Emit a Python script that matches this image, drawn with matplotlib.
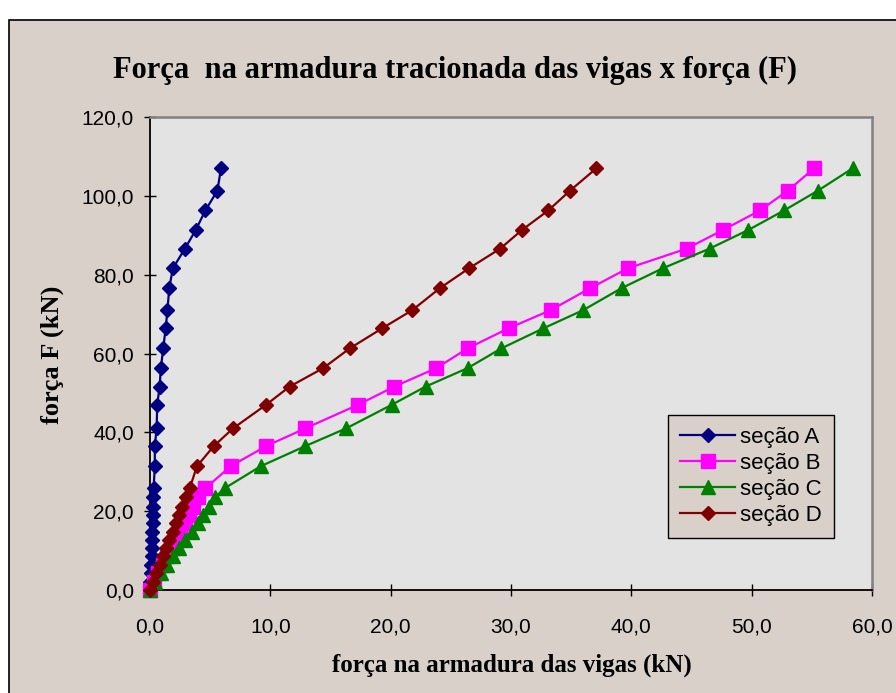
import matplotlib
matplotlib.use("Agg")
import matplotlib.pyplot as plt
import matplotlib.patches as mpatches
from matplotlib.ticker import FuncFormatter, MultipleLocator

# load levels F (kN), shared by the four sections
forca_F = [0, 2.1, 4.2, 6.3, 8.5, 10.6, 12.7, 14.8, 16.9, 19.0, 21.1, 23.5, 25.8,
           31.4, 36.5, 41.0, 47.0, 51.6, 56.3, 61.3, 66.4, 71.0, 76.6, 81.6,
           86.6, 91.3, 96.3, 101.3, 107.0]

# force in the tensioned reinforcement (kN)
secao_A = [0, 0.04, 0.07, 0.1, 0.13, 0.16, 0.18, 0.2, 0.22, 0.24, 0.26, 0.28, 0.3,
           0.4, 0.4, 0.55, 0.6, 0.8, 0.9, 1.1, 1.3, 1.45, 1.6, 1.9,
           2.9, 3.8, 4.6, 5.6, 5.9]
secao_B = [0, 0.35, 0.7, 1.05, 1.45, 1.8, 2.15, 2.5, 2.9, 3.25, 3.6, 4.0, 4.6,
           6.7, 9.65, 12.9, 17.3, 20.3, 23.8, 26.4, 29.8, 33.3, 36.6, 39.7,
           44.6, 47.6, 50.7, 53.0, 55.2]
secao_C = [0, 0.45, 0.95, 1.45, 1.95, 2.45, 2.95, 3.45, 3.95, 4.4, 4.9, 5.4, 6.2,
           9.2, 12.9, 16.3, 20.1, 22.9, 26.4, 29.2, 32.7, 36.0, 39.2, 42.6,
           46.5, 49.7, 52.7, 55.5, 58.4]
secao_D = [0, 0.25, 0.5, 0.8, 1.1, 1.35, 1.6, 1.9, 2.15, 2.45, 2.7, 3.0, 3.3,
           3.9, 5.3, 6.9, 9.65, 11.6, 14.4, 16.6, 19.3, 21.8, 24.1, 26.5,
           29.1, 30.9, 33.1, 34.9, 37.1]

legendas = ["seção A", "seção B", "seção C", "seção D"]

bg = "#D9D0C9"
fig = plt.figure(figsize=(8.96, 6.93), dpi=100, facecolor="white")
# chart area frame
fig.patches.append(mpatches.Rectangle((9 / 896, -0.01), 1.0, 1 - 20 / 693 + 0.01,
                                      transform=fig.transFigure, facecolor=bg,
                                      edgecolor="black", linewidth=1.2, zorder=-5))

ax = fig.add_axes([150 / 896, 103 / 693, 722 / 896, 473 / 693])
ax.set_zorder(2)
ax.set_facecolor("#E3E3E3")

ax.plot(secao_A, forca_F, color="#000080", marker="D", markersize=7, lw=1.6,
        label=legendas[0], clip_on=False, zorder=3)
ax.plot(secao_B, forca_F, color="#FF00FF", marker="s", markersize=10, lw=1.6,
        label=legendas[1], clip_on=False, zorder=3)
ax.plot(secao_C, forca_F, color="#008000", marker="^", markersize=10, lw=1.6,
        label=legendas[2], clip_on=False, zorder=3)
ax.plot(secao_D, forca_F, color="#800000", marker="D", markersize=7, lw=1.6,
        label=legendas[3], clip_on=False, zorder=3)

ax.set_xlim(0, 60)
ax.set_ylim(0, 120)
ax.xaxis.set_major_locator(MultipleLocator(10))
ax.yaxis.set_major_locator(MultipleLocator(20))
fmt = FuncFormatter(lambda v, p: f"{v:.1f}".replace(".", ","))
ax.xaxis.set_major_formatter(fmt)
ax.yaxis.set_major_formatter(fmt)
ax.tick_params(direction="inout", length=9, width=1, labelsize=15,
               colors="black")
ax.tick_params(axis="y", pad=7)
ax.tick_params(axis="x", pad=15)
for lab in ax.get_xticklabels() + ax.get_yticklabels():
    lab.set_fontfamily("Liberation Sans")

for s in ["left", "bottom"]:
    ax.spines[s].set_color("black")
    ax.spines[s].set_linewidth(1.3)
for s in ["top", "right"]:
    ax.spines[s].set_color("#808080")
    ax.spines[s].set_linewidth(1.8)

leg = ax.legend(loc="lower left", bbox_to_anchor=(0.717, 0.110), fancybox=False,
                framealpha=1, facecolor=bg, edgecolor="black",
                prop={"family": "Liberation Sans", "size": 16},
                handlelength=2.5, labelspacing=0.22, borderpad=0.55,
                handletextpad=0.2, borderaxespad=0)
leg.get_frame().set_linewidth(1.0)

fig.text(455 / 896, 1 - 70 / 693, "Força  na armadura tracionada das vigas x força (F)",
         ha="center", va="center", fontsize=22, fontweight="bold",
         family="Liberation Serif")
fig.text(52 / 896, 1 - 355 / 693, "força F (kN)", rotation=90,
         ha="center", va="center", fontsize=19, fontweight="bold",
         family="Liberation Serif")
fig.text(512 / 896, 1 - 665 / 693, "força na armadura das vigas (kN)",
         ha="center", va="center", fontsize=18, fontweight="bold",
         family="Liberation Serif")

fig.savefig("out.png", dpi=100, facecolor=fig.get_facecolor())
